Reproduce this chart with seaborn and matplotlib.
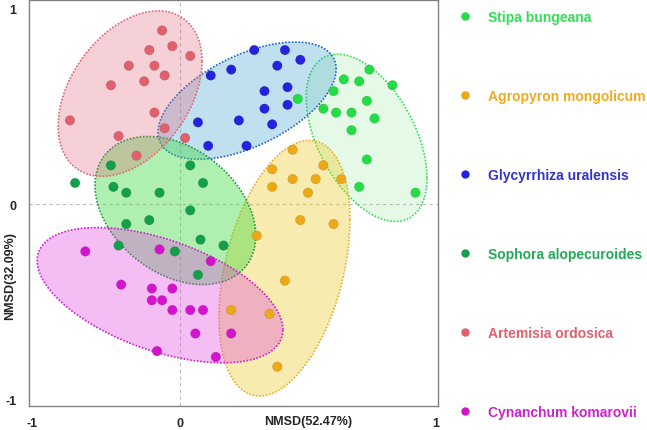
import numpy as np
import pandas as pd
import matplotlib
matplotlib.use("Agg")
import matplotlib.pyplot as plt
from matplotlib.colors import to_rgba
import seaborn as sns

species = ["Stipa bungeana", "Agropyron mongolicum", "Glycyrrhiza uralensis",
           "Sophora alopecuroides", "Artemisia ordosica", "Cynanchum komarovii"]

# NMDS scores
stipa_x = [0.74, 0.64, 0.70, 0.83, 0.60, 0.73, 0.46, 0.56, 0.61, 0.67, 0.76, 0.67, 0.73, 0.70, 0.92]
stipa_y = [0.69, 0.64, 0.63, 0.61, 0.58, 0.53, 0.54, 0.49, 0.47, 0.47, 0.44, 0.38, 0.23, 0.09, 0.06]
agro_x = [0.44, 0.36, 0.56, 0.44, 0.53, 0.63, 0.36, 0.50, 0.47, 0.60, 0.30, 0.41, 0.20, 0.35, 0.38]
agro_y = [0.28, 0.18, 0.20, 0.13, 0.13, 0.13, 0.09, 0.06, -0.08, -0.10, -0.16, -0.39, -0.54, -0.56, -0.83]
glyc_x = [0.29, 0.41, 0.47, 0.38, 0.20, 0.12, 0.42, 0.33, 0.42, 0.33, 0.07, 0.23, 0.36, 0.11, 0.26]
glyc_y = [0.79, 0.79, 0.74, 0.71, 0.69, 0.66, 0.60, 0.58, 0.51, 0.49, 0.42, 0.43, 0.41, 0.30, 0.30]
soph_x = [-0.27, 0.04, -0.41, 0.09, -0.26, -0.21, -0.08, 0.04, -0.21, -0.12, 0.08, 0.17, -0.24, -0.02, 0.07]
soph_y = [0.20, 0.20, 0.11, 0.11, 0.09, 0.06, 0.06, -0.03, -0.10, -0.08, -0.18, -0.21, -0.21, -0.24, -0.36]
arte_x = [-0.07, -0.12, -0.03, 0.04, -0.20, -0.10, -0.06, -0.27, -0.14, -0.10, -0.43, -0.06, -0.24, 0.02, -0.17]
arte_y = [0.89, 0.79, 0.81, 0.76, 0.71, 0.71, 0.66, 0.61, 0.63, 0.47, 0.43, 0.39, 0.35, 0.34, 0.25]
cyna_x = [-0.37, -0.08, 0.12, -0.23, -0.11, -0.03, -0.11, -0.07, -0.03, 0.04, 0.09, 0.06, 0.20, -0.09, 0.14]
cyna_y = [-0.24, -0.23, -0.29, -0.41, -0.43, -0.43, -0.49, -0.49, -0.54, -0.54, -0.54, -0.66, -0.66, -0.75, -0.78]

# group ellipses: centre, half extent in x / y, and x-y correlation
ell_cx = [0.729, 0.408, 0.262, -0.018, -0.195, -0.078]
ell_cy = [0.341, -0.326, 0.531, -0.031, 0.567, -0.464]
ell_rx = [0.236, 0.256, 0.348, 0.314, 0.281, 0.480]
ell_ry = [0.428, 0.654, 0.300, 0.379, 0.423, 0.346]
ell_rho = [-0.48, 0.38, 0.54, -0.34, 0.39, -0.51]

point_colors = ["#22DD44", "#EDA915", "#2323E0", "#14A04A", "#E0606E", "#D414CC"]
text_colors = ["#33DD55", "#EEAA22", "#3333CC", "#22AA55", "#E06070", "#CC22CC"]
fill_colors = ["#55DD5F", "#EBC61D", "#3399CC", "#39D939", "#E06478", "#E042E0"]
fill_alpha = [0.15, 0.35, 0.30, 0.40, 0.30, 0.35]
edge_colors = ["#33DD55", "#E8B030", "#2266CC", "#229944", "#DD6677", "#CC22CC"]

xs = [stipa_x, agro_x, glyc_x, soph_x, arte_x, cyna_x]
ys = [stipa_y, agro_y, glyc_y, soph_y, arte_y, cyna_y]

df = pd.concat([pd.DataFrame({"x": x, "y": y, "species": s})
                for s, x, y in zip(species, xs, ys)], ignore_index=True)

sns.set_style("white")
plt.rcParams["font.family"] = ["Liberation Sans", "DejaVu Sans"]

fig = plt.figure(figsize=(6.47, 4.31), dpi=100)
ax = fig.add_axes([29 / 647, 24 / 431, 409 / 647, 406 / 431])

ax.axhline(0, color="#BBBBBB", ls=(0, (3, 3)), lw=0.8, zorder=0.5)
ax.axvline(0, color="#BBBBBB", ls=(0, (3, 3)), lw=0.8, zorder=0.5)

t = np.linspace(0, 2 * np.pi, 240)
for i in range(len(species)):
    ex = ell_cx[i] + ell_rx[i] * np.cos(t)
    ey = ell_cy[i] + ell_ry[i] * (ell_rho[i] * np.cos(t)
                                  + np.sqrt(1 - ell_rho[i] ** 2) * np.sin(t))
    ax.fill(ex, ey, facecolor=to_rgba(fill_colors[i], fill_alpha[i]),
            edgecolor=edge_colors[i], ls=(0, (1, 1)), lw=1.2, zorder=1)

sns.scatterplot(data=df, x="x", y="y", hue="species", hue_order=species,
                palette=dict(zip(species, point_colors)), s=48,
                edgecolor=(0, 0, 0, 0.15), linewidth=0.4, ax=ax, zorder=3)

ax.set_xlim(-0.59, 1.008)
ax.set_ylim(-1.031, 1.046)
ax.set_xticks([-0.578, 0, 1])
ax.set_xticklabels(["-1", "0", "1"])
ax.set_yticks([-1, 0, 1])
ax.set_yticklabels(["-1", "0", "1"])
ax.tick_params(length=0, labelsize=9)
ax.tick_params(axis="x", pad=8)
ax.tick_params(axis="y", pad=9)
for lab in ax.get_xticklabels() + ax.get_yticklabels():
    lab.set_fontweight("bold")
for sp in ax.spines.values():
    sp.set_color("#808080")
    sp.set_linewidth(1)

ax.set_xlabel("NMSD(52.47%)", fontsize=9, fontweight="bold")
ax.xaxis.set_label_coords(0.682, -0.037)
ax.xaxis.label.set_va("center")
ax.set_ylabel("NMSD(32.09%)", fontsize=9, fontweight="bold")
ax.yaxis.set_label_coords(-0.046, 0.323)
ax.yaxis.label.set_va("center")

handles, labels = ax.get_legend_handles_labels()
leg = ax.legend(handles, labels, loc="upper left", bbox_to_anchor=(0.7085, 0.974),
                bbox_transform=fig.transFigure, frameon=False,
                prop={"weight": "bold", "size": 10}, labelspacing=4.68,
                handlelength=1, handletextpad=1.1, borderpad=0, borderaxespad=0,
                markerscale=0.85)
for t_, c in zip(leg.get_texts(), text_colors):
    t_.set_color(c)

fig.savefig("out.png", dpi=100)
